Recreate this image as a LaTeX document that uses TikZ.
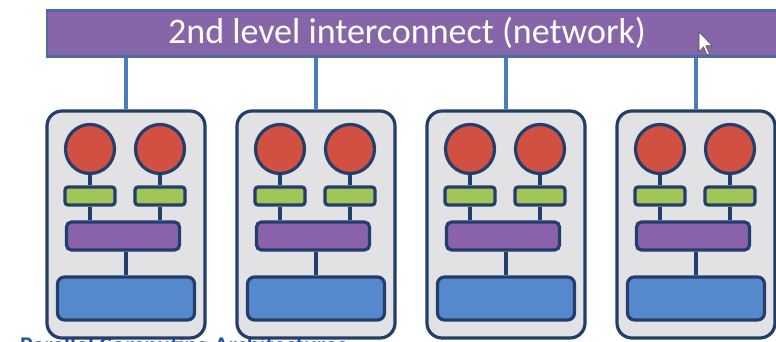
\documentclass[tikz,border=0pt]{standalone}
\usepackage{fontspec}
\setmainfont{Carlito}
\definecolor{netpurple}{RGB}{134,102,168}
\definecolor{netedge}{RGB}{78,108,160}
\definecolor{linkblue}{RGB}{74,126,187}
\definecolor{navy}{RGB}{36,62,108}
\definecolor{nodegray}{RGB}{226,226,228}
\definecolor{cpured}{RGB}{210,80,66}
\definecolor{cachegreen}{RGB}{160,196,86}
\definecolor{busviolet}{RGB}{138,98,172}
\definecolor{memblue}{RGB}{86,136,206}
\definecolor{titleblue}{RGB}{34,84,160}
\tikzset{
  netbar/.style={draw=netedge, line width=2.5pt, fill=netpurple, minimum width=745pt, minimum height=46pt, inner sep=0pt},
  nettext/.style={text=white, font=\fontsize{36}{40}\selectfont, inner sep=0pt},
  uplink/.style={draw=linkblue, line width=3.4pt},
  nodebox/.style={draw=navy, line width=3.2pt, fill=nodegray, rounded corners=15pt, minimum width=158pt, minimum height=227pt, inner sep=0pt},
  cpu/.style={circle, draw=navy, line width=3.2pt, fill=cpured, minimum size=49pt, inner sep=0pt},
  cache/.style={draw=navy, line width=3.2pt, fill=cachegreen, rounded corners=3pt, minimum width=50pt, minimum height=18pt, inner sep=0pt},
  bus/.style={draw=navy, line width=3.2pt, fill=busviolet, rounded corners=5pt, minimum width=113pt, minimum height=28pt, inner sep=0pt},
  mem/.style={draw=navy, line width=3.2pt, fill=memblue, rounded corners=7pt, minimum width=137pt, minimum height=43pt, inner sep=0pt},
  wire/.style={draw=navy, line width=3.8pt},
}
\begin{document}
\begin{tikzpicture}[x=1pt,y=-1pt]
\useasboundingbox (0,0) rectangle (776,342);
\fill[white] (0,0) rectangle (776,342);

% interconnect bar
\node[netbar] (net) at (419.5,33.5) {};
\node[nettext] (nettitle) at (407,33) {2nd level interconnect (network)};

% mouse pointer (y grows downward here)
\filldraw[fill=white, draw=black!70, line width=0.6pt, shift={(699,32)}, scale=1.15]
  (0,0) -- (0,17) -- (4,13) -- (7,20) -- (9,19) -- (6,12) -- (11.5,12) -- cycle;

% caption running off the lower edge
\node[anchor=north west, inner sep=0pt, text=titleblue, font=\bfseries\fontsize{24}{28}\selectfont] (caption) at (20,336) {Parallel Computing Architectures};

% four shared-memory nodes
\foreach \i/\c in {1/126,2/316,3/506,4/696}{
  \node[nodebox] (box\i) at (\c,224.5) {};
  \node[cpu] (cpuA\i) at (\c-36,149) {};
  \node[cpu] (cpuB\i) at (\c+34,149) {};
  \node[cache] (cacheA\i) at (\c-36,196) {};
  \node[cache] (cacheB\i) at (\c+34,196) {};
  \node[bus] (bus\i) at (\c-3,236) {};
  \node[mem] (mem\i) at (\c,298.5) {};
  \draw[uplink] (box\i.north |- net.south) -- (box\i.north);
  \draw[wire] (cpuA\i.south) -- (cacheA\i.north);
  \draw[wire] (cpuB\i.south) -- (cacheB\i.north);
  \draw[wire] (cacheA\i.south) -- (cacheA\i.south |- bus\i.north);
  \draw[wire] (cacheB\i.south) -- (cacheB\i.south |- bus\i.north);
  \draw[wire] (mem\i.north |- bus\i.south) -- (mem\i.north);
}
\end{tikzpicture}
\end{document}
